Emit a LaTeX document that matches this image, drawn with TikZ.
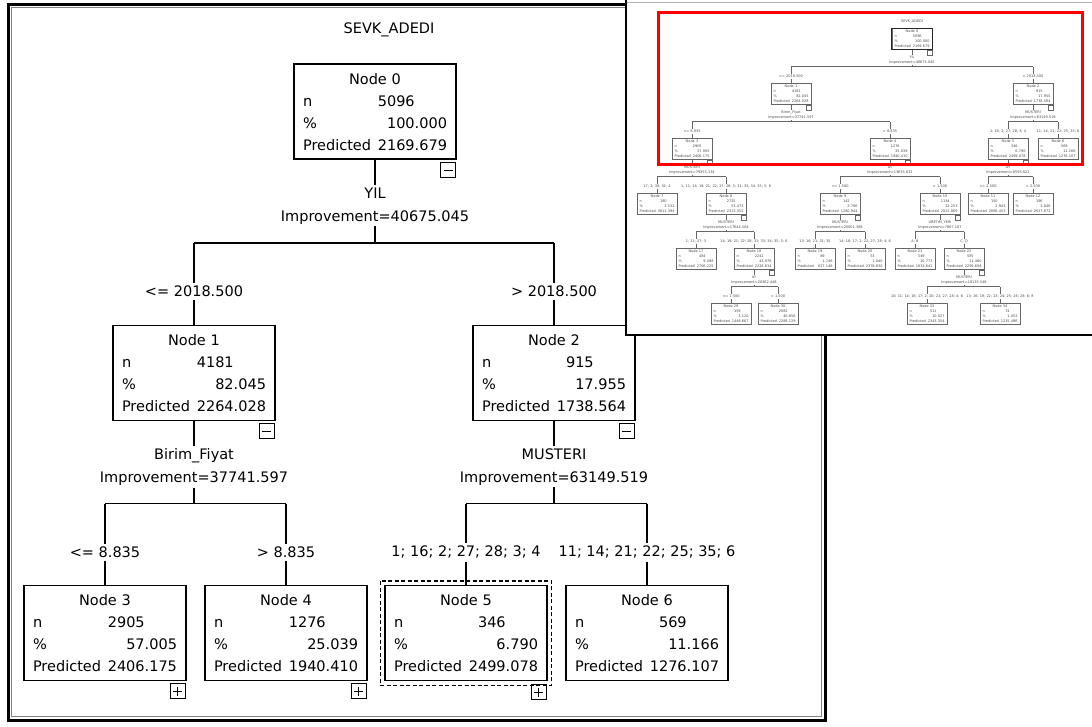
\documentclass[tikz,border=0pt]{standalone}
\usepackage{fontspec}
\setmainfont{DejaVu Sans}
\usetikzlibrary{calc}

% rows of a tree box
\newcommand\rowline[2]{\makebox[\linewidth]{#1\hfill#2}}
\newcommand\boxbody[4]{\makebox[\linewidth]{Node #1}\\\rowline{n}{#2\phantom{.000}}\\\rowline{\%}{#3}\\\rowline{Predicted}{#4}}
\newcommand\treebox[7][]{\node[treebox,#1] (#2) at (#3) {\boxbody{#4}{#5}{#6}{#7}};}
% split: parent, left child, right child, variable, left label, right label
\newcommand\branch[6]{%
  \node[splitlab] (#1s) at ($(#1.south)+(0,\dsplit)$) {#4};
  \coordinate (#1h) at ($(#1.south)+(0,\dbar)$);
  \node[branchlab] (#2b) at ($(#2.north |- #1.south)+(0,\dlab)$) {#5};
  \node[branchlab] (#3b) at ($(#3.north |- #1.south)+(0,\dlab)$) {#6};
  \draw[conn] (#1.south) -- (#1s.north) (#1s.south) -- (#1h)
    (#2b |- #1h) -- (#3b |- #1h)
    (#2b |- #1h) -- (#2b.north) (#2b.south) -- (#2.north)
    (#3b |- #1h) -- (#3b.north) (#3b.south) -- (#3.north);
}
\def\dsplit{45.5}\def\dbar{82.5}\def\dlab{131}

\begin{document}
\begin{tikzpicture}[x=1pt,y=-1pt,
  conn/.style={line width=1.2pt},
  treebox/.style={draw, line width=1.3pt, anchor=north, inner sep=0pt,
    minimum width=162pt, minimum height=95pt, text width=144pt, align=left,
    font=\fontsize{14.5}{22}\selectfont},
  splitlab/.style={align=center, inner sep=2pt, font=\fontsize{14.5}{23}\selectfont},
  branchlab/.style={inner sep=3pt, font=\fontsize{14.5}{16}\selectfont},
  pmbox/.style={draw, line width=.9pt, anchor=north east, minimum size=15pt, inner sep=0pt},
  minusbox/.style={pmbox, path picture={
    \draw[line width=1.3pt] ([xshift=3pt]path picture bounding box.west) -- ([xshift=-3pt]path picture bounding box.east);}},
  plusbox/.style={pmbox, path picture={
    \draw[line width=1.3pt] ([xshift=3pt]path picture bounding box.west) -- ([xshift=-3pt]path picture bounding box.east)
      ([yshift=-3pt]path picture bounding box.north) -- ([yshift=3pt]path picture bounding box.south);}},
  minimark/.style={draw=gray!80!black, line width=.4pt, anchor=north east, minimum size=5pt, inner sep=0pt}]
\useasboundingbox (0,0) rectangle (1092,726);
\fill[white] (0,0) rectangle (1092,726);

% main window
\draw[line width=3pt] (8,4) rectangle (825,720);
\draw[gray, line width=.8pt] (11.5,7.5) rectangle (821.5,716.5);
\node[font=\fontsize{14.5}{16}\selectfont] (title) at (389,30) {SEVK\_ADEDI};

\treebox[line width=2.4pt]{n0}{375,63}{0}{5096}{100.000}{2169.679}
\treebox{n1}{194,325}{1}{4181}{82.045}{2264.028}
\treebox{n2}{554,325}{2}{915}{17.955}{1738.564}
\treebox{n3}{105,585}{3}{2905}{57.005}{2406.175}
\treebox{n4}{286,585}{4}{1276}{25.039}{1940.410}
\treebox{n5}{466,585}{5}{346}{6.790}{2499.078}
\treebox{n6}{647,585}{6}{569}{11.166}{1276.107}

\branch{n0}{n1}{n2}{YIL\\Improvement=40675.045}{<= 2018.500}{> 2018.500}
\branch{n1}{n3}{n4}{Birim\_Fiyat\\Improvement=37741.597}{<= 8.835}{> 8.835}
\branch{n2}{n5}{n6}{MUSTERI\\Improvement=63149.519}{1; 16; 2; 27; 28; 3; 4}{11; 14; 21; 22; 25; 35; 6}

\draw[line width=1.4pt, dash pattern=on 4pt off 2.5pt] ([shift={(-4pt,4pt)}]n5.north west) rectangle ([shift={(4pt,-4pt)}]n5.south east);
\foreach \k in {0,1,2} \node[minusbox] (n\k m) at ([xshift=-1pt,yshift=-2pt]n\k.south east) {};
\foreach \k in {3,4} \node[plusbox] (n\k m) at ([xshift=-1pt,yshift=-2pt]n\k.south east) {};
\node[plusbox] (n5m) at ([xshift=-1pt,yshift=-3pt]n5.south east) {};

% overview window
\fill[white] (625,0) rectangle (1092,336);
\draw[line width=2pt] (626,0) -- (626,335) -- (1092,335);
\draw[gray!60] (627,2) -- (1092,2);
\begin{scope}[conn/.style={draw=gray!80!black, line width=.5pt},
  treebox/.style={draw=gray!80!black, line width=.6pt, text=black!70, anchor=north, inner sep=0pt,
    minimum width=40pt, minimum height=21pt, text width=35pt, align=left,
    font=\fontsize{3.5}{5.1}\selectfont},
  splitlab/.style={align=center, inner sep=.6pt, text=black!70, font=\fontsize{3.5}{5}\selectfont},
  branchlab/.style={inner sep=.8pt, text=black!70, font=\fontsize{3.5}{4}\selectfont}]
\def\dsplit{10.5}\def\dbar{17}\def\dlab{27}
\node[text=black!70, font=\fontsize{3.5}{4}\selectfont] (ititle) at (912,22) {SEVK\_ADEDI};
\foreach \k/\x/\y/\vn/\vp/\vr in {0/912/28/5096/100.000/2169.679, 1/791/83/4181/82.045/2264.028,
  2/1033/83/915/17.955/1738.564, 3/692/138/2905/57.005/2406.175, 4/890/138/1276/25.039/1940.410,
  5/1008/138/346/6.790/2499.078, 6/1058/138/569/11.166/1276.107, 7/657/193/180/3.532/3611.394,
  8/726/193/2725/53.473/2313.352, 9/840/193/142/2.786/1280.944, 10/940/193/1134/22.253/2022.869,
  11/988/193/150/2.943/2666.453, 12/1033/193/196/3.846/2627.672, 17/696/248/484/9.498/2706.225,
  18/754/248/2241/43.976/2228.634, 19/815/248/89/1.746/627.146, 20/865/248/53/1.040/2378.830,
  21/915/248/549/10.773/1633.641, 22/964/248/585/11.480/2299.608, 29/731/303/159/3.120/1449.667,
  30/778/303/2082/40.856/2288.129, 33/927/303/511/10.027/2343.354, 34/1000/303/74/1.452/1215.486}
  \treebox{i\k}{\x,\y}{\k}{\vn}{\vp}{\vr}
\draw[gray!30!black, line width=1pt] (i0.north west) rectangle (i0.south east);
\foreach \k in {0,1,2,3,4,5,8,9,10,18,22} \node[minimark] (i\k m) at (i\k.south east) {};

\branch{i0}{i1}{i2}{YIL\\Improvement=40675.045}{<= 2018.500}{> 2018.500}
\branch{i1}{i3}{i4}{Birim\_Fiyat\\Improvement=37741.597}{<= 8.835}{> 8.835}
\branch{i2}{i5}{i6}{MUSTERI\\Improvement=63149.519}{1; 16; 2; 27; 28; 3; 4}{11; 14; 21; 22; 25; 35; 6}
\branch{i3}{i7}{i8}{MUSTERI\\Improvement=79355.134}{17; 2; 30; 32; 4}{1; 11; 14; 19; 21; 22; 27; 28; 3; 31; 33; 34; 35; 5; 6}
\branch{i4}{i9}{i10}{AY\\Improvement=13635.632}{<= 1.500}{> 1.500}
\branch{i5}{i11}{i12}{AY\\Improvement=8595.822}{<= 2.500}{> 2.500}
\branch{i8}{i17}{i18}{MUSTERI\\Improvement=17644.564}{1; 11; 27; 3}{14; 19; 21; 22; 28; 31; 33; 34; 35; 5; 6}
\branch{i9}{i19}{i20}{MUSTERI\\Improvement=20001.368}{13; 16; 21; 31; 35}{14; 16; 17; 2; 22; 27; 28; 4; 6}
\branch{i10}{i21}{i22}{URETIM\_YERI\\Improvement=7667.187}{A; B}{C; D}
\branch{i18}{i29}{i30}{AY\\Improvement=20362.448}{<= 1.500}{> 1.500}
\branch{i22}{i33}{i34}{MUSTERI\\Improvement=18135.546}{10; 11; 14; 16; 17; 2; 20; 21; 27; 28; 4; 6}{13; 16; 19; 22; 23; 24; 25; 26; 28; 6; 8}
\end{scope}
\draw[red, line width=3pt] (658,12) rectangle (1082,164);
\end{tikzpicture}
\end{document}
